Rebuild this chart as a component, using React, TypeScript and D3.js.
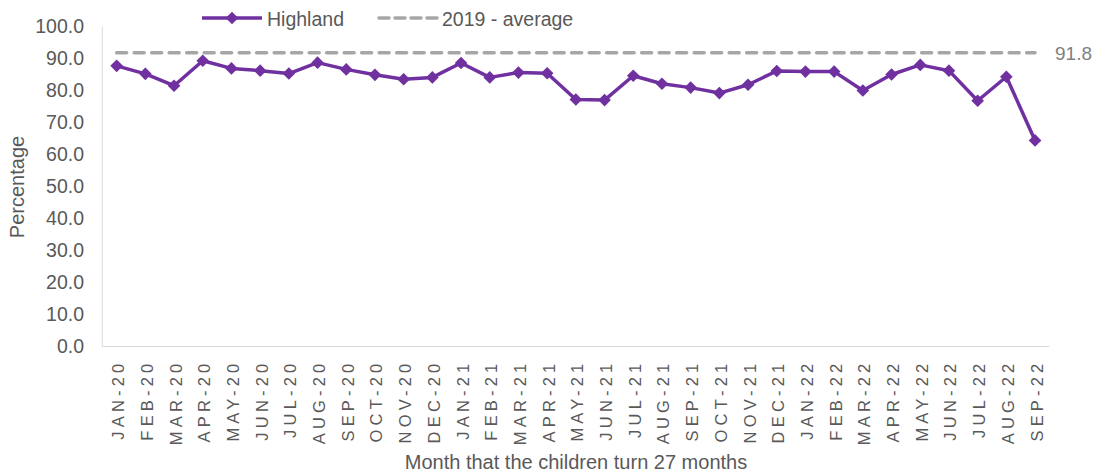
import React from "react";
import * as d3 from "d3";

const months = [
  "JAN-20", "FEB-20", "MAR-20", "APR-20", "MAY-20", "JUN-20", "JUL-20", "AUG-20", "SEP-20", "OCT-20", "NOV-20", "DEC-20",
  "JAN-21", "FEB-21", "MAR-21", "APR-21", "MAY-21", "JUN-21", "JUL-21", "AUG-21", "SEP-21", "OCT-21", "NOV-21", "DEC-21",
  "JAN-22", "FEB-22", "MAR-22", "APR-22", "MAY-22", "JUN-22", "JUL-22", "AUG-22", "SEP-22",
];
const highland = [
  87.7, 85.2, 81.5, 89.3, 86.9, 86.2, 85.3, 88.7, 86.6, 84.9, 83.5, 84.1,
  88.6, 84.1, 85.6, 85.4, 77.2, 77.0, 84.6, 82.1, 80.9, 79.2, 81.8, 86.1,
  85.9, 85.9, 80.0, 85.0, 88.0, 86.2, 76.8, 84.3, 64.4,
];
const average2019 = 91.8;
const yTicks = [0, 10, 20, 30, 40, 50, 60, 70, 80, 90, 100];
const seriesNames = ["Highland", "2019 - average"];

const W = 1099;
const H = 473;
const FONT = "'Liberation Sans', Arial, sans-serif";
const TXT = "#595959";
const PURPLE = "#7030A0";
const GREY = "#A6A6A6";

export default function App() {
  const x = d3.scaleBand<string>().domain(months).range([102.3, 1049.4]).padding(0);
  const cx = (m: string) => (x(m) as number) + x.bandwidth() / 2;
  const y = d3.scaleLinear().domain([0, 100]).range([346.5, 26.5]);

  const line = d3
    .line<number>()
    .x((_, i) => cx(months[i]))
    .y((d) => y(d));
  const diamond = d3.symbol().type(d3.symbolSquare).size(80)();

  const x0 = cx(months[0]);
  const x1 = cx(months[months.length - 1]);

  return (
    <svg width={W} height={H} style={{ position: "absolute", left: 0, top: 0 }} fontFamily={FONT}>
      <rect width={W} height={H} fill="#fff" />
      {/* axes */}
      <line x1={x.range()[0]} x2={x.range()[0]} y1={y(100)} y2={y(0)} stroke="#D9D9D9" strokeWidth={1} />
      <line x1={x.range()[0]} x2={x.range()[1]} y1={y(0)} y2={y(0)} stroke="#D9D9D9" strokeWidth={1} />
      {yTicks.map((t) => (
        <text key={t} x={84} y={y(t)} dy="0.35em" textAnchor="end" fontSize={19.5} fill={TXT}>
          {t.toFixed(1)}
        </text>
      ))}
      {months.map((m) => (
        <text
          key={m}
          transform={`translate(${cx(m) + 7.5},${y(0) + 13}) rotate(-90)`}
          textAnchor="end"
          fontSize={16.5}
          letterSpacing={4.2}
          fill={TXT}
        >
          {m}
        </text>
      ))}
      <text x={576} y={469} textAnchor="middle" fontSize={20} fill={TXT}>
        Month that the children turn 27 months
      </text>
      <text transform={`translate(24,${187}) rotate(-90)`} textAnchor="middle" fontSize={20} fill={TXT}>
        Percentage
      </text>
      {/* average line */}
      <line
        x1={x0}
        x2={x1}
        y1={y(average2019)}
        y2={y(average2019)}
        stroke={GREY}
        strokeWidth={3.5}
        strokeDasharray="10 7.5"
        strokeLinecap="round"
      />
      <text x={1055} y={y(average2019) + 1} dy="0.35em" fontSize={19} fill="#7F7F7F">
        {average2019.toFixed(1)}
      </text>
      {/* series */}
      <path d={line(highland) as string} fill="none" stroke={PURPLE} strokeWidth={3.5} strokeLinejoin="round" />
      {highland.map((v, i) => (
        <path key={i} d={diamond as string} transform={`translate(${cx(months[i])},${y(v)}) rotate(45)`} fill={PURPLE} />
      ))}
      {/* legend */}
      <line x1={202} x2={262} y1={18} y2={18} stroke={PURPLE} strokeWidth={3.5} />
      <path d={diamond as string} transform="translate(232,18) rotate(45)" fill={PURPLE} />
      <text x={267} y={19} dy="0.35em" fontSize={19.5} fill={TXT}>
        {seriesNames[0]}
      </text>
      <line x1={379} x2={437} y1={18} y2={18} stroke={GREY} strokeWidth={3.5} strokeDasharray="10 6" strokeLinecap="round" />
      <text x={442} y={19} dy="0.35em" fontSize={19.5} fill={TXT}>
        {seriesNames[1]}
      </text>
    </svg>
  );
}
